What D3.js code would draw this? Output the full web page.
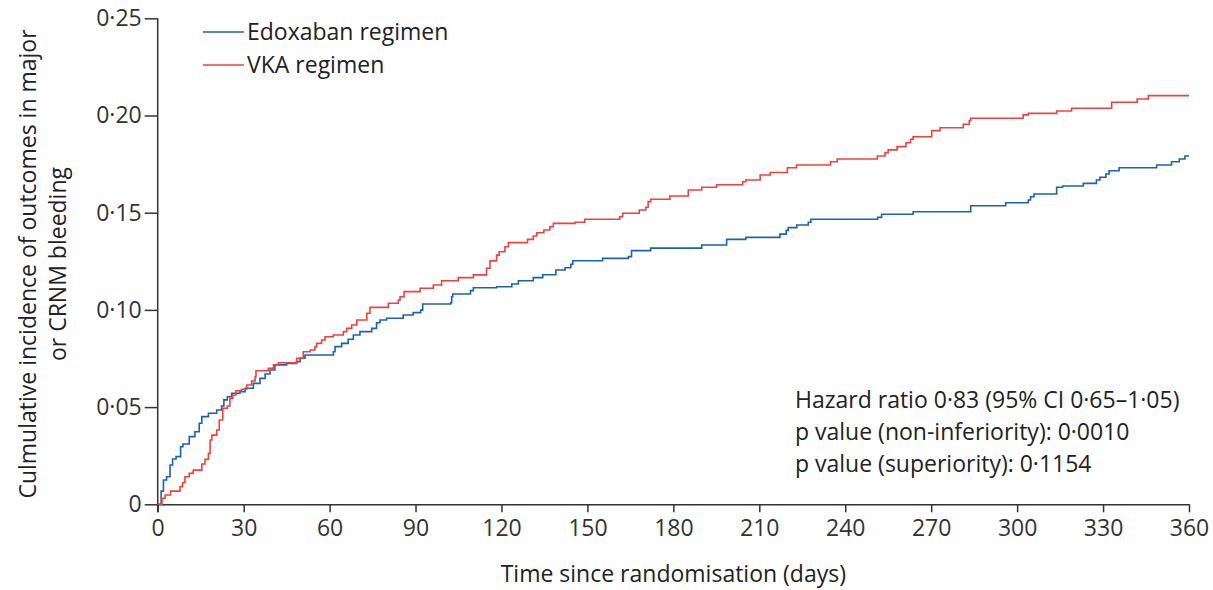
<!DOCTYPE html>
<html>
<head>
<meta charset="utf-8">
<script src="https://cdn.jsdelivr.net/npm/d3@7"></script>
<style>
  body { margin: 0; background: #fff; }
  svg { display: block; font-family: "Open Sans", "Noto Sans", sans-serif; }
</style>
</head>
<body>
<svg></svg>
<script>
const width = 1213;
const height = 590;
const margin = { top: 18.3, right: 24, bottom: 85.7, left: 157.7 };

// Kaplan-Meier style step points (day, cumulative incidence)
const edoxabanDays = [0, 1.2, 2.0, 3.1, 4.3, 5.2, 6.4, 8.0, 8.8, 11.0, 13.0, 14.5, 15.4, 17.7, 20.6, 22.3, 23.1, 24.3, 25.8, 28.7,
  30.5, 33.4, 35.7, 37.5, 39.2, 40.9, 45.0, 48.5, 49.7, 51.4, 61.3, 61.9, 64.2, 66.5, 68.3, 70.6, 74.7, 76.4, 77.6, 79.9,
  85.7, 89.2, 91.8, 92.5, 102.3, 102.6, 103.0, 109.2, 110.2, 118.3, 123.6, 125.9, 131.1, 134.4, 139.0, 142.2, 144.2, 144.9, 155.3, 164.3,
  165.4, 172.1, 189.9, 198.6, 205.3, 217.2, 219.4, 220.1, 223.1, 227.1, 228.0, 251.3, 252.7, 263.7, 283.8, 296.0, 303.9, 304.7, 305.9, 313.8,
  315.9, 323.1, 327.7, 328.9, 331.0, 332.1, 335.6, 348.7, 353.9, 356.6, 358.6];
const edoxabanRisk = [0, 0.0068, 0.0125, 0.0142, 0.0202, 0.0233, 0.0245, 0.0296, 0.0310, 0.0348, 0.0373, 0.0417, 0.0451, 0.0468, 0.0485, 0.0506, 0.0537, 0.0553, 0.0571, 0.0579,
  0.0597, 0.0622, 0.0648, 0.0670, 0.0691, 0.0717, 0.0725, 0.0734, 0.0751, 0.0768, 0.0785, 0.0811, 0.0828, 0.0849, 0.0871, 0.0888, 0.0905, 0.0934, 0.0948, 0.0957,
  0.0974, 0.0986, 0.0999, 0.1030, 0.1037, 0.1068, 0.1082, 0.1099, 0.1114, 0.1119, 0.1133, 0.1150, 0.1166, 0.1181, 0.1205, 0.1217, 0.1235, 0.1253, 0.1265, 0.1274,
  0.1305, 0.1318, 0.1334, 0.1363, 0.1373, 0.1390, 0.1409, 0.1423, 0.1437, 0.1451, 0.1466, 0.1476, 0.1492, 0.1505, 0.1536, 0.1551, 0.1565, 0.1582, 0.1596, 0.1631,
  0.1637, 0.1651, 0.1668, 0.1682, 0.1699, 0.1716, 0.1731, 0.1745, 0.1762, 0.1776, 0.1792];

const vkaDays = [0, 1.5, 2.6, 4.5, 7.8, 8.7, 9.5, 11.0, 12.4, 15.4, 16.5, 17.7, 18.3, 18.9, 20.6, 21.5, 22.7, 24.3, 25.2, 26.2,
  27.3, 29.3, 31.1, 32.8, 34.0, 34.3, 38.6, 40.4, 42.1, 48.5, 50.8, 53.2, 54.9, 55.5, 57.2, 58.4, 61.3, 64.8, 66.0, 67.7,
  69.5, 73.0, 74.1, 80.5, 84.0, 84.6, 86.0, 91.6, 96.2, 99.1, 104.9, 110.2, 114.8, 116.0, 118.3, 119.2, 121.2, 122.4, 129.1, 131.1,
  132.3, 134.8, 136.9, 138.1, 145.7, 149.1, 161.3, 162.3, 168.1, 170.4, 171.2, 172.1, 178.8, 185.2, 189.9, 195.1, 204.2, 205.3, 210.3, 213.8,
  219.8, 223.0, 234.9, 237.2, 251.2, 253.9, 255.0, 258.1, 261.2, 262.8, 263.7, 270.2, 273.1, 281.2, 283.3, 283.8, 302.1, 303.9, 313.8, 319.0,
  333.0, 341.9, 345.8];
const vkaRisk = [0, 0.0031, 0.0048, 0.0068, 0.0091, 0.0111, 0.0142, 0.0159, 0.0176, 0.0207, 0.0231, 0.0262, 0.0331, 0.0356, 0.0382, 0.0434, 0.0494, 0.0506, 0.0545, 0.0562,
  0.0584, 0.0592, 0.0614, 0.0634, 0.0656, 0.0687, 0.0700, 0.0717, 0.0728, 0.0751, 0.0785, 0.0794, 0.0811, 0.0828, 0.0845, 0.0862, 0.0871, 0.0888, 0.0905, 0.0922,
  0.0948, 0.0983, 0.1013, 0.1034, 0.1051, 0.1068, 0.1094, 0.1111, 0.1128, 0.1150, 0.1166, 0.1180, 0.1214, 0.1252, 0.1282, 0.1299, 0.1325, 0.1346, 0.1363, 0.1380,
  0.1397, 0.1411, 0.1428, 0.1445, 0.1451, 0.1466, 0.1479, 0.1497, 0.1514, 0.1528, 0.1557, 0.1569, 0.1586, 0.1617, 0.1631, 0.1644, 0.1659, 0.1668, 0.1694, 0.1707,
  0.1731, 0.1745, 0.1762, 0.1776, 0.1792, 0.1809, 0.1823, 0.1840, 0.1860, 0.1878, 0.1891, 0.1922, 0.1937, 0.1955, 0.1973, 0.1986, 0.2003, 0.2011, 0.2023, 0.2037,
  0.2068, 0.2085, 0.2102];

const xTicks = [0, 30, 60, 90, 120, 150, 180, 210, 240, 270, 300, 330, 360];
const yTicks = [0, 0.05, 0.10, 0.15, 0.20, 0.25];
const yTickLabels = ["0", "0·05", "0·10", "0·15", "0·20", "0·25"];
const seriesNames = ["Edoxaban regimen", "VKA regimen"];
const seriesColors = ["#1d62ad", "#f0413f"];
const statLines = [
  "Hazard ratio 0·83 (95% CI 0·65–1·05)",
  "p value (non-inferiority): 0·0010",
  "p value (superiority): 0·1154"
];

const svg = d3.select('svg').attr('width', width).attr('height', height);

const x = d3.scaleLinear().domain([0, 360]).range([margin.left, width - margin.right]);
const y = d3.scaleLinear().domain([0, 0.25]).range([height - margin.bottom, margin.top]);

const axisColor = "#333";

const xAxis = svg.append('g')
  .attr('transform', `translate(0,${y(0)})`)
  .call(d3.axisBottom(x).tickValues(xTicks).tickSize(8).tickSizeOuter(0).tickPadding(7).tickFormat(d3.format('d')));

const yAxis = svg.append('g')
  .attr('transform', `translate(${x(0)},0)`)
  .call(d3.axisLeft(y).tickValues(yTicks).tickSize(13).tickSizeOuter(0).tickPadding(3)
    .tickFormat((d, i) => yTickLabels[i]));

[xAxis, yAxis].forEach(g => {
  g.selectAll('path, line').attr('stroke', axisColor).attr('stroke-width', 1.5);
  g.selectAll('text').attr('fill', '#333').style('font-size', '23px').style('font-family', '"Open Sans", sans-serif');
});
yAxis.select('.domain').attr('d', `M0,${y(0.25)}V${y(0) + 8}`);

// step curves
const series = [
  { days: edoxabanDays, risk: edoxabanRisk },
  { days: vkaDays, risk: vkaRisk }
];
const line = d3.line()
  .x(d => x(d[0]))
  .y(d => y(d[1]))
  .curve(d3.curveStepAfter);

series.forEach((s, i) => {
  const pts = s.days.map((d, j) => [d, s.risk[j]]);
  pts.push([360, s.risk[s.risk.length - 1]]);
  svg.append('path')
    .datum(pts)
    .attr('fill', 'none')
    .attr('stroke', seriesColors[i])
    .attr('stroke-width', 1.6)
    .attr('d', line);
});

// legend
const legend = svg.append('g').attr('transform', 'translate(203,32)');
seriesNames.forEach((name, i) => {
  const g = legend.append('g').attr('transform', `translate(0,${i * 33})`);
  g.append('line').attr('x1', 0).attr('x2', 41).attr('y1', 0).attr('y2', 0)
    .attr('stroke', seriesColors[i]).attr('stroke-width', 1.3);
  g.append('text').attr('x', 44).attr('y', 8).text(name)
    .style('font-size', '23px').attr('fill', '#222');
});

// statistics
svg.append('g').selectAll('text')
  .data(statLines)
  .enter().append('text')
  .attr('x', 795)
  .attr('y', (d, i) => 408 + i * 32)
  .text(d => d)
  .style('font-size', '23px')
  .attr('fill', '#222');

// axis titles
svg.append('text')
  .attr('x', x(180))
  .attr('y', 582)
  .attr('text-anchor', 'middle')
  .style('font-size', '23px')
  .attr('fill', '#222')
  .text('Time since randomisation (days)');

const yTitle = svg.append('text')
  .attr('transform', 'translate(36,264) rotate(-90)')
  .attr('text-anchor', 'middle')
  .style('font-size', '23px')
  .attr('fill', '#222');
yTitle.append('tspan').attr('x', 0).attr('dy', 0).text('Culmulative incidence of outcomes in major');
yTitle.append('tspan').attr('x', 0).attr('dy', 30).text('or CRNM bleeding');
</script>
</body>
</html>
